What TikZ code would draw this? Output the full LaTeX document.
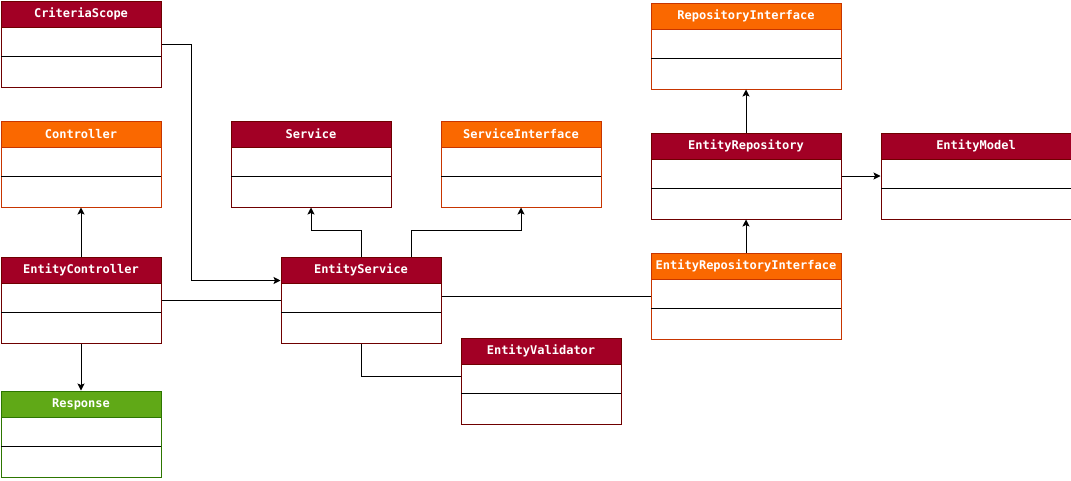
\documentclass[tikz,border=0pt]{standalone}
\usepackage{fontspec}
\setmonofont{DejaVu Sans Mono}
\usetikzlibrary{arrows.meta,calc}
\definecolor{redF}{HTML}{A20025}
\definecolor{redS}{HTML}{6F0000}
\definecolor{oraF}{HTML}{FA6800}
\definecolor{oraS}{HTML}{C73500}
\definecolor{grnF}{HTML}{60A917}
\definecolor{grnS}{HTML}{2D7600}
\tikzset{
  x=1pt, y=-1pt,
  classbody/.style={rectangle, fill=white, line width=1pt, minimum height=86pt, inner sep=0pt, anchor=north west},
  classhead/.style={rectangle, line width=1pt, minimum height=26pt, inner sep=0pt, anchor=north west,
    text=white, font=\ttfamily\bfseries\fontsize{12}{14}\selectfont},
  sepline/.style={line width=1pt, black},
  conn/.style={line width=1pt, black},
  arr/.style={conn, -{Stealth[length=7pt, width=7pt, inset=1.5pt]}},
}
\newcommand\umlclass[7]{%
  \node[classbody, draw=#6, minimum width=#4pt] (#1) at (#2,#3) {};
  \draw[sepline] ($(#1.north west)+(0.5,56)$) -- ($(#1.north east)+(-0.5,56)$);
  \node[classhead, fill=#5, draw=#6, minimum width=#4pt] (#1-h) at (#1.north west) {#7};
}
\begin{document}
\begin{tikzpicture}
\useasboundingbox (0,0) rectangle (1071,480);
% classes
\umlclass{cs}{0.5}{0.5}{160}{redF}{redS}{CriteriaScope}
\umlclass{ctl}{0.5}{120.5}{160}{oraF}{oraS}{Controller}
\umlclass{ec}{0.5}{256.5}{160}{redF}{redS}{EntityController}
\umlclass{resp}{0.5}{390.5}{160}{grnF}{grnS}{Response}
\umlclass{svc}{230.5}{120.5}{160}{redF}{redS}{Service}
\umlclass{si}{440.5}{120.5}{160}{oraF}{oraS}{ServiceInterface}
\umlclass{es}{280.5}{256.5}{160}{redF}{redS}{EntityService}
\umlclass{ev}{460.5}{337.5}{160}{redF}{redS}{EntityValidator}
\umlclass{ri}{650.5}{2.5}{190}{oraF}{oraS}{RepositoryInterface}
\umlclass{er}{650.5}{132.5}{190}{redF}{redS}{EntityRepository}
\umlclass{em}{880.5}{132.5}{190}{redF}{redS}{EntityModel}
\umlclass{eri}{650.5}{252.5}{190}{oraF}{oraS}{EntityRepositoryInterface}
% connectors
\draw[arr] (cs.east) -- ++(30,0) |- ($(es.north west)+(0,24)$);
\draw[arr] (ec.north) -- (ctl.south);
\draw[arr] (ec.south) -- (resp.north);
\draw[conn] (ec.east) -- (ec.east -| es.west);
\draw[arr] (es.north) -- ++(0,-26) -| (svc.south);
\draw[arr] ($(es.north)+(50,0)$) -- ++(0,-26) -| (si.south);
\draw[conn] (eri.west) -- (eri.west -| es.east);
\draw[conn] (es.south) |- ($(ev.north west)+(0,39)$);
\draw[arr] (eri.north) -- (er.south);
\draw[arr] (er.north) -- (ri.south);
\draw[arr] (er.east) -- (em.west);
\end{tikzpicture}
\end{document}
